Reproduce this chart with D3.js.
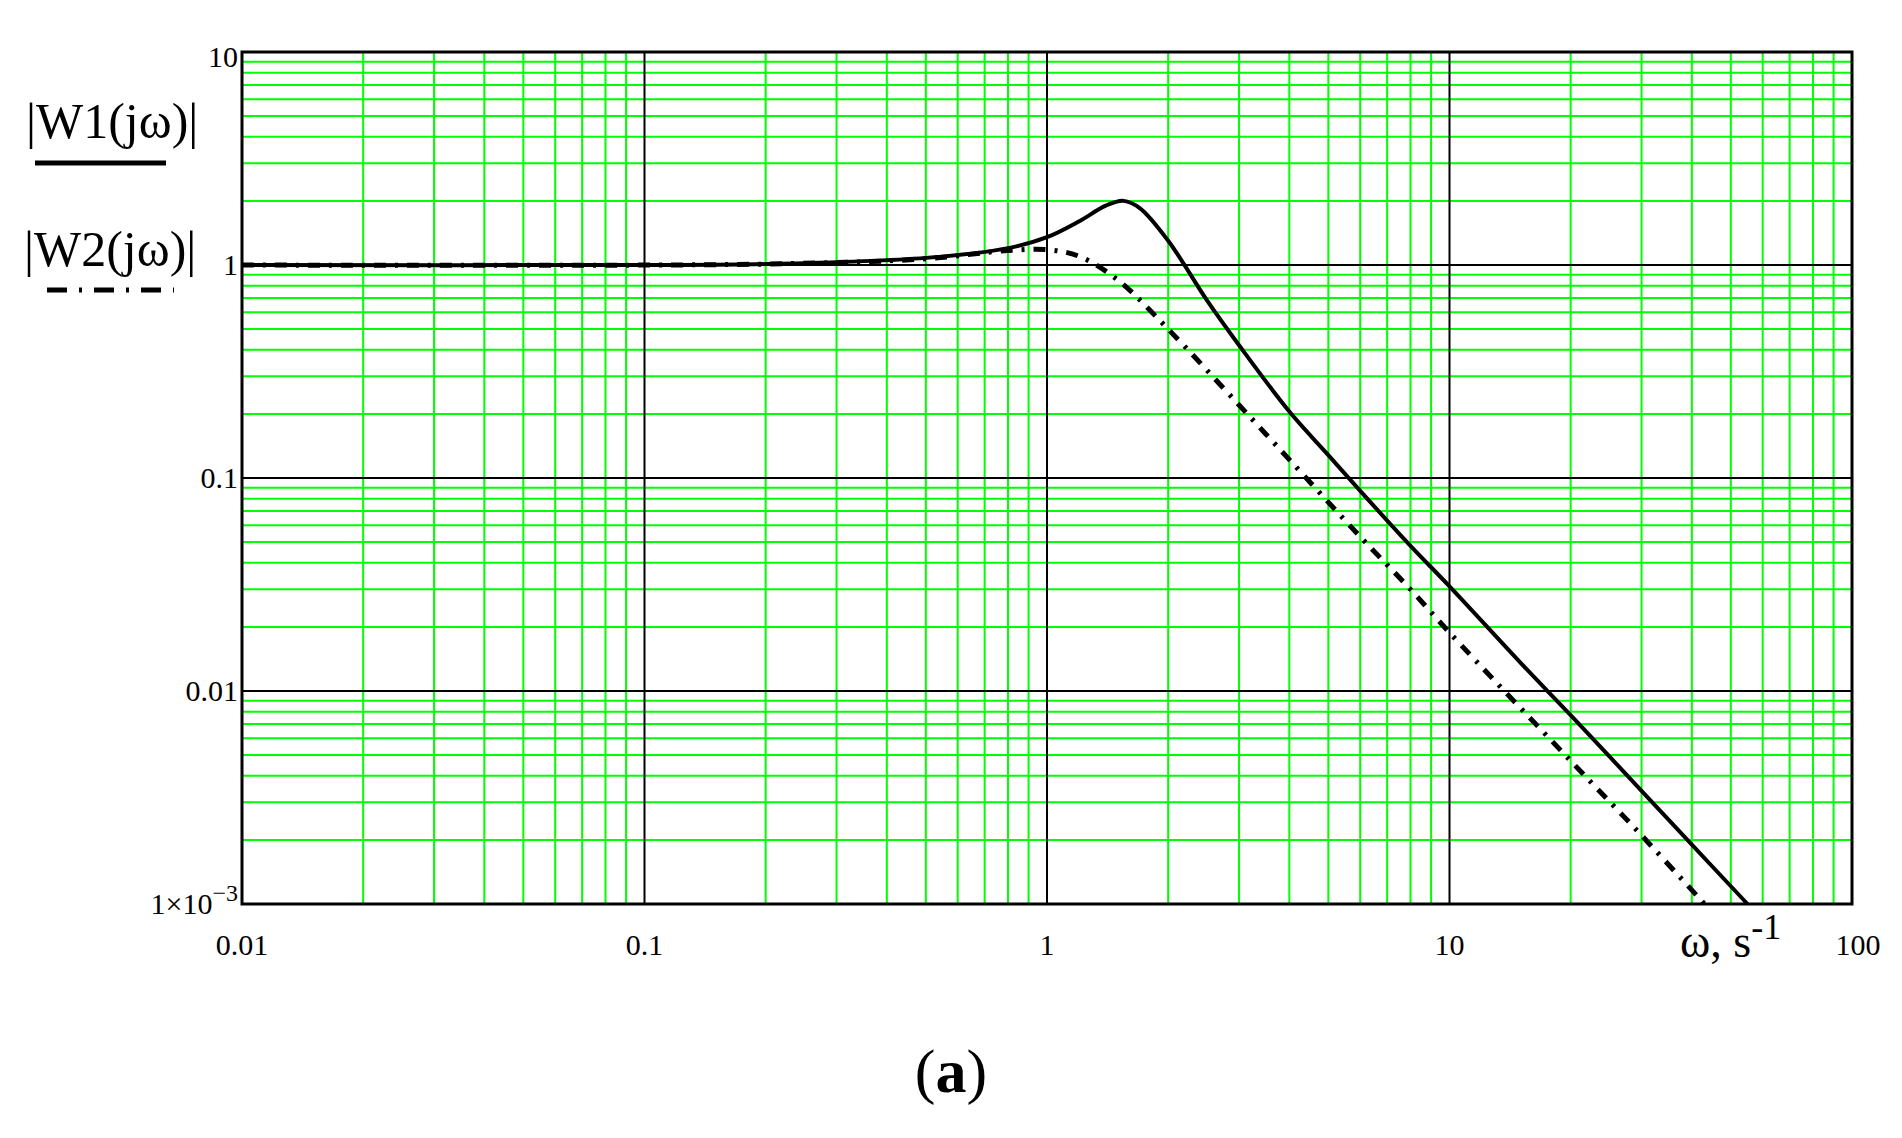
<!DOCTYPE html>
<html><head><meta charset="utf-8">
<script src="https://cdn.jsdelivr.net/npm/d3@7"></script>
<style>body{margin:0;background:#fff}</style></head>
<body><svg id="c" width="1902" height="1138"></svg>
<script>
const w1Freq = [0.01,0.1,0.2,0.5,0.8,1,1.2,1.4,1.55,1.7,2,2.5,3,4,5,6,8,10,15,20,30,40,55];
const w1Mag  = [1,1,1.01,1.08,1.2,1.35,1.6,1.9,2.0,1.85,1.3,0.68,0.42,0.205,0.128,0.087,0.048,0.031,0.0136,0.0077,0.0034,0.0019,0.001];
const w2Freq = [0.01,0.2,0.5,0.8,1,1.2,1.5,2,3,4,6,8,10,20,30,43];
const w2Mag  = [1,1.01,1.07,1.17,1.18,1.1,0.85,0.5,0.22,0.122,0.053,0.03,0.0188,0.0047,0.0021,0.001];
const xTicks = [0.01,0.1,1,10,100];
const xTickLabels = ["0.01","0.1","1","10","100"];
const yTicks = [10,1,0.1,0.01];
const yTickLabels = ["10","1","0.1","0.01"];

const svg = d3.select("#c");
const L=242,R=1852,T=52,B=904;
const x = d3.scaleLog().domain([0.01,100]).range([L,R]);
const y = d3.scaleLog().domain([0.001,10]).range([B,T]);
const font = "'Liberation Serif', 'Times New Roman', serif";

const g = svg.append("g");
for (let d=-2; d<2; d++) for (let k=2;k<=9;k++){
  const v=k*Math.pow(10,d);
  g.append("line").attr("x1",x(v)).attr("x2",x(v)).attr("y1",T).attr("y2",B).attr("stroke","#00ff00").attr("stroke-width",2);
}
for (let d=-3; d<1; d++) for (let k=2;k<=9;k++){
  const v=k*Math.pow(10,d);
  g.append("line").attr("y1",y(v)).attr("y2",y(v)).attr("x1",L).attr("x2",R).attr("stroke","#00ff00").attr("stroke-width",2);
}
xTicks.slice(1,-1).forEach(v=>g.append("line").attr("x1",x(v)).attr("x2",x(v)).attr("y1",T).attr("y2",B).attr("stroke","#000").attr("stroke-width",2));
[1,0.1,0.01].forEach(v=>g.append("line").attr("y1",y(v)).attr("y2",y(v)).attr("x1",L).attr("x2",R).attr("stroke","#000").attr("stroke-width",2));
g.append("rect").attr("x",L).attr("y",T).attr("width",R-L).attr("height",B-T).attr("fill","none").attr("stroke","#000").attr("stroke-width",3);

const line = d3.line().x(d=>x(d[0])).y(d=>y(d[1])).curve(d3.curveCatmullRom.alpha(0.5));
svg.append("path").datum(w2Freq.map((f,i)=>[f,w2Mag[i]])).attr("d",line).attr("fill","none")
  .attr("stroke","#000").attr("stroke-width",5).attr("stroke-dasharray","12,9,3,9");
svg.append("path").datum(w1Freq.map((f,i)=>[f,w1Mag[i]])).attr("d",line).attr("fill","none")
  .attr("stroke","#000").attr("stroke-width",4);

xTicks.forEach((v,i)=>svg.append("text").attr("x",x(v)+(i==4?6:0)).attr("y",955).attr("text-anchor","middle")
  .attr("font-family",font).attr("font-size",30).text(xTickLabels[i]));
yTicks.forEach((v,i)=>svg.append("text").attr("x",L-4).attr("y",y(v)+(i==0?15:10)).attr("text-anchor","end")
  .attr("font-family",font).attr("font-size",30).text(yTickLabels[i]));
const t3 = svg.append("text").attr("x",L-4).attr("y",B+10).attr("text-anchor","end").attr("font-family",font).attr("font-size",30);
t3.append("tspan").text("1×10");
t3.append("tspan").attr("dy",-13).attr("font-size",24).text("−3");

const xl = svg.append("text").attr("x",1680).attr("y",957).attr("font-family",font).attr("font-size",46);
xl.append("tspan").text("ω,  s");
xl.append("tspan").attr("dy",-18).attr("font-size",36).text("-1");

svg.append("text").attr("x",26).attr("y",138).attr("font-family",font).attr("font-size",50).text("|W1(jω)|");
svg.append("line").attr("x1",35).attr("x2",166).attr("y1",163).attr("y2",163).attr("stroke","#000").attr("stroke-width",5);
svg.append("text").attr("x",24).attr("y",266).attr("font-family",font).attr("font-size",50).text("|W2(jω)|");
svg.append("line").attr("x1",47).attr("x2",174).attr("y1",290).attr("y2",290).attr("stroke","#000").attr("stroke-width",5)
  .attr("stroke-dasharray","20,12,3,12");

svg.append("text").attr("x",951).attr("y",1092).attr("text-anchor","middle").attr("font-family",font).attr("font-size",62)
  .html('(<tspan font-weight="bold">a</tspan>)');
</script></body></html>
